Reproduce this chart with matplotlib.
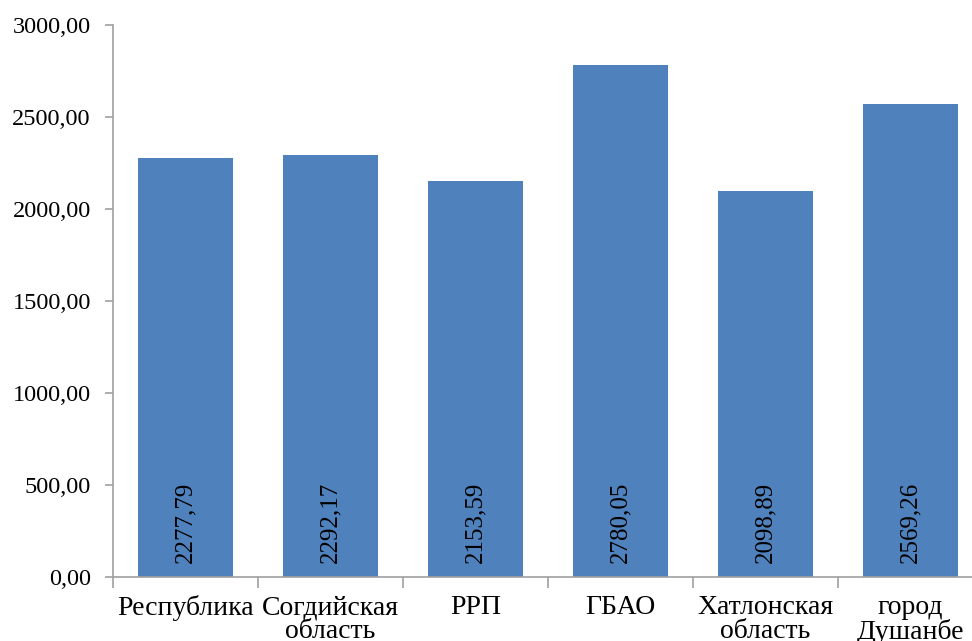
import matplotlib.pyplot as plt
import numpy as np

categories = ["Республика", "Согдийская\nобласть", "РРП", "ГБАО", "Хатлонская\nобласть", "город\nДушанбе"]
values = [2277.79, 2292.17, 2153.59, 2780.05, 2098.89, 2569.26]
y_ticks = [0, 500, 1000, 1500, 2000, 2500, 3000]

plt.rcParams['font.family'] = ['Liberation Serif', 'DejaVu Serif']

fig = plt.figure(figsize=(9.72, 6.41), dpi=100)
ax = fig.add_axes([113 / 972, 1 - 577 / 641, 870 / 972, (577 - 25) / 641])

x = np.arange(len(categories))
ax.bar(x, values, width=0.655, color='#4F81BD')

for xi, v in zip(x, values):
    label = f"{v:.2f}".replace('.', ',')
    ax.text(xi, 75, label, rotation=90, ha='center', va='bottom', fontsize=18, color='black')

ax.set_xlim(-0.5, len(categories) - 0.5)
ax.set_ylim(0, 3000)
ax.set_yticks(y_ticks)
ax.set_yticklabels([f"{t},00" for t in y_ticks], fontsize=17.5)

ax.set_xticks(np.arange(-0.5, len(categories), 1.0))
ax.set_xticklabels([])
ax.set_xticks(x, minor=True)
ax.set_xticklabels(categories, minor=True, fontsize=20, linespacing=0.93)
ax.tick_params(axis='x', which='minor', length=0, pad=13)
ax.tick_params(axis='x', which='major', length=8, color='#A0A0A0', width=1.2)
ax.tick_params(axis='y', length=6, color='#A0A0A0', width=1.2, pad=10)

for side in ['top', 'right']:
    ax.spines[side].set_visible(False)
for side in ['left', 'bottom']:
    ax.spines[side].set_color('#A0A0A0')
    ax.spines[side].set_linewidth(1.2)

fig.savefig("out.png", dpi=100)
